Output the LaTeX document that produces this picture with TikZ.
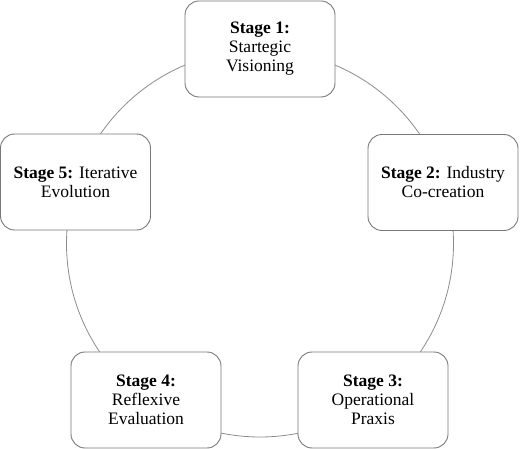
\documentclass[tikz,border=0pt]{standalone}
\usepackage{fontspec}
\setmainfont{Liberation Serif}
\definecolor{boxline}{RGB}{120,120,120}
\definecolor{ringline}{RGB}{140,140,140}
\tikzset{
  stagebox/.style={draw=boxline, line width=0.9pt, fill=white, rounded corners=14pt,
    minimum width=150pt, minimum height=96pt, align=center, inner sep=2pt,
    font=\fontsize{17.5}{19}\selectfont},
  ring/.style={draw=ringline, line width=0.8pt}
}
\begin{document}
\begin{tikzpicture}[x=1pt,y=-1pt]
\useasboundingbox (0,0) rectangle (520,449);
\coordinate (c) at (260,243.5);
\draw[ring] (c) circle (193.5pt);
\node[stagebox] (s1) at (260,49) {\textbf{Stage 1:}\\Startegic\\Visioning};
\node[stagebox] (s2) at (443,182.5) {\textbf{Stage 2:} Industry\\Co-creation};
\node[stagebox] (s3) at (373,400) {\textbf{Stage 3:}\\Operational\\Praxis};
\node[stagebox] (s4) at (146,400) {\textbf{Stage 4:}\\Reflexive\\Evaluation};
\node[stagebox] (s5) at (75.5,182) {\textbf{Stage 5:} Iterative\\Evolution};
\end{tikzpicture}
\end{document}
